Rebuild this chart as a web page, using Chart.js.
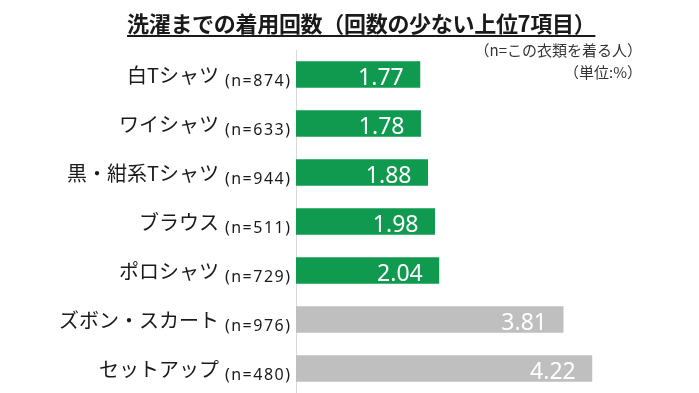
<!DOCTYPE html>
<html lang="ja">
<head>
<meta charset="utf-8">
<script src="https://cdn.jsdelivr.net/npm/chart.js@4/dist/chart.umd.min.js"></script>
<style>
  html, body { margin: 0; padding: 0; background: #fff; }
  #wrap { position: relative; width: 699px; height: 393px; font-family: "Noto Sans CJK JP", "Noto Sans", sans-serif; }
  #chart { position: absolute; left: 0; top: 0; }
  .title { position: absolute; left: 127px; top: 6px; font-size: 22px; font-weight: bold; color: #1a1a1a;
           text-decoration: underline; text-underline-offset: 3px; text-decoration-thickness: 1.5px; white-space: nowrap; letter-spacing: -0.3px; }
  .note { position: absolute; font-size: 15px; color: #333; white-space: nowrap; text-align: right; width: 200px; }
</style>
</head>
<body>
<div id="wrap">
  <canvas id="chart" width="699" height="393"></canvas>
  <div class="title">洗濯までの着用回数（回数の少ない上位7項目）</div>
  <div class="note" style="top:39px; left:442px">（n=この衣類を着る人）</div>
  <div class="note" style="top:61px; left:442px">（単位:%）</div>
</div>
<script>
(function () {
  // ---------- Data ----------
  const categories = ["白Tシャツ", "ワイシャツ", "黒・紺系Tシャツ", "ブラウス", "ポロシャツ", "ズボン・スカート", "セットアップ"];
  const sampleSizes = [874, 633, 944, 511, 729, 976, 480];
  const wearCounts = [1.77, 1.78, 1.88, 1.98, 2.04, 3.81, 4.22];
  const topN = 5;

  const GREEN = "#0f9a50";
  const GRAY = "#bfbfbf";
  const FONT = '"Noto Sans CJK JP", "Noto Sans", sans-serif';

  // category labels: big name + small (n=...) on the same line
  const catLabels = {
    id: "catLabels",
    afterDraw(chart) {
      const { ctx } = chart;
      const y = chart.scales.y;
      const right = chart.chartArea.left - 4.5;
      ctx.save();
      ctx.fillStyle = "#1a1a1a";
      ctx.textBaseline = "alphabetic";
      categories.forEach((c, i) => {
        const cy = y.getPixelForValue(i);
        ctx.font = '16px "Noto Sans", sans-serif';
        ctx.letterSpacing = "1.5px";
        const n = "(n=" + sampleSizes[i] + ")";
        const nw = ctx.measureText(n).width;
        ctx.textAlign = "left";
        ctx.fillText(n, right - nw, cy + 11.5);
        ctx.letterSpacing = "0px";
        ctx.font = "20px " + FONT;
        ctx.textAlign = "right";
        ctx.fillText(c, right - nw - 6, cy + 8);
      });
      ctx.restore();
    }
  };

  // value labels inside bar ends
  const valueLabels = {
    id: "valueLabels",
    afterDatasetsDraw(chart) {
      const { ctx } = chart;
      const meta = chart.getDatasetMeta(0);
      ctx.save();
      ctx.fillStyle = "#fff";
      ctx.font = '23px "Noto Sans", sans-serif';
      ctx.textAlign = "right";
      ctx.textBaseline = "alphabetic";
      meta.data.forEach((bar, i) => {
        ctx.fillText(wearCounts[i].toFixed(2), bar.x - 16.5, bar.y + 10);
      });
      ctx.restore();
    }
  };

  new Chart(document.getElementById("chart"), {
    type: "bar",
    data: {
      labels: categories,
      datasets: [{
        data: wearCounts,
        backgroundColor: (c) => c.dataIndex < topN ? GREEN : GRAY,
        borderWidth: 0,
        categoryPercentage: 1,
        barPercentage: 0.54
      }]
    },
    options: {
      indexAxis: "y",
      responsive: false,
      animation: false,
      layout: { padding: { left: 296, right: 52, top: 50, bottom: 0 } },
      plugins: { legend: { display: false }, tooltip: { enabled: false }, title: { display: false } },
      scales: {
        x: { display: false, min: 0, max: 5 },
        y: {
          grid: { display: false, drawTicks: false },
          border: { display: true, color: "#d9d9d9", width: 1 },
          ticks: { display: false },
          afterFit: (s) => { s.width = 0; }
        }
      }
    },
    plugins: [catLabels, valueLabels]
  });
})();
</script>
</body>
</html>
